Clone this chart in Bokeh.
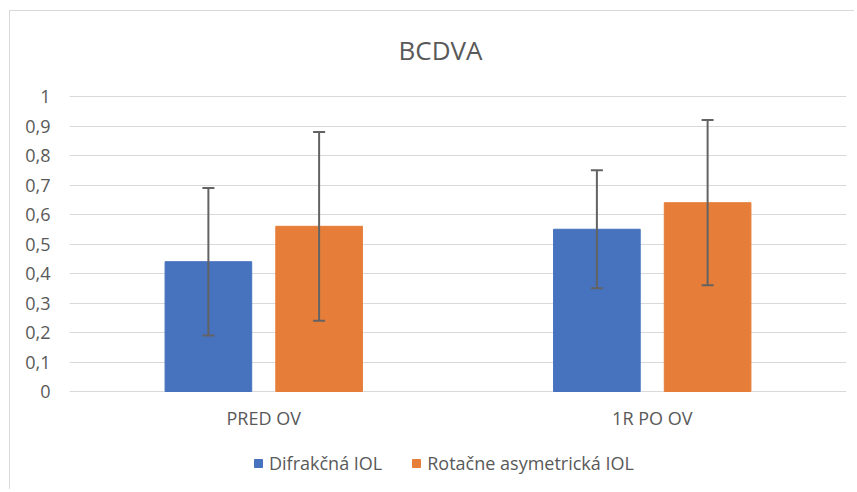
from bokeh.plotting import figure
from bokeh.models import (ColumnDataSource, FactorRange, Whisker, TeeHead, Legend,
                          LegendItem, FixedTicker, CustomJSTickFormatter, Label)
from bokeh.core.properties import value
from bokeh.transform import dodge
from bokeh.embed import file_html
from bokeh.resources import INLINE

# ---- data ----
categories = ["PRED OV", "1R PO OV"]
series_names = ["Difrakčná IOL", "Rotačne asymetrická IOL"]
difrakcna = [0.44, 0.55]
difrakcna_err = [0.25, 0.20]
rotacne = [0.56, 0.64]
rotacne_err = [0.32, 0.28]
y_ticks = [0, 0.1, 0.2, 0.3, 0.4, 0.5, 0.6, 0.7, 0.8, 0.9, 1.0]
title_text = "BCDVA"

BLUE = "#4672BE"
ORANGE = "#E67E3A"
TEXT = "#595959"
ERR = "#636363"
GRID = "#D9D9D9"
FONT = "Open Sans"

src = ColumnDataSource(data=dict(
    cats=categories,
    dif=difrakcna,
    rot=rotacne,
    dif_up=[v + e for v, e in zip(difrakcna, difrakcna_err)],
    dif_lo=[v - e for v, e in zip(difrakcna, difrakcna_err)],
    rot_up=[v + e for v, e in zip(rotacne, rotacne_err)],
    rot_lo=[v - e for v, e in zip(rotacne, rotacne_err)],
))

# frame extends above/below the 0..1 value area to hold title, category labels and legend
Y_BOTTOM = -0.3288
Y_TOP = 1.2712
LABEL_Y = -0.0915
TITLE_X = 0.955   # synthetic categorical coordinate (0..2)
TITLE_Y = 1.159

p = figure(x_range=FactorRange(factors=categories, range_padding=0),
           y_range=(Y_BOTTOM, Y_TOP), width=845, height=479,
           output_backend="svg", toolbar_location=None,
           min_border_left=59, min_border_right=9,
           min_border_top=5, min_border_bottom=2)
p.title.visible = False
p.margin = (11, 0, 0, 10)
p.styles = {"box-shadow": "-1px -1px 0 #D9D9D9"}
p.outline_line_color = None
p.background_fill_color = "white"
p.border_fill_color = "white"

off = 0.1425
bw = 0.223
r1 = p.vbar(x=dodge("cats", -off, range=p.x_range), top="dif", width=bw, source=src,
            fill_color=BLUE, line_color=BLUE)
r2 = p.vbar(x=dodge("cats", off, range=p.x_range), top="rot", width=bw, source=src,
            fill_color=ORANGE, line_color=ORANGE)

for base, up, lo in [(dodge("cats", -off, range=p.x_range), "dif_up", "dif_lo"),
                     (dodge("cats", off, range=p.x_range), "rot_up", "rot_lo")]:
    w = Whisker(source=src, base=base, upper=up, lower=lo, dimension="height",
                line_color=ERR, line_width=2, level="overlay",
                upper_head=TeeHead(size=12, line_color=ERR, line_width=2),
                lower_head=TeeHead(size=12, line_color=ERR, line_width=2))
    p.add_layout(w)

# category labels (x axis)
p.text(x="cats", y=LABEL_Y, text="cats", source=src,
       text_font=value(FONT), text_font_size="18px", text_color=TEXT,
       text_align="center", text_baseline="middle")

# title
p.add_layout(Label(x=TITLE_X, y=TITLE_Y, text=title_text, text_font=FONT,
                   text_font_size="26px", text_color=TEXT,
                   text_align="center", text_baseline="middle"))

# axes
p.xaxis.visible = False
p.yaxis.ticker = FixedTicker(ticks=y_ticks)
p.yaxis.formatter = CustomJSTickFormatter(code="""
    if (Math.abs(tick) < 1e-9) return '0';
    if (Math.abs(tick - 1) < 1e-9) return '1';
    return tick.toFixed(1).replace('.', ',');
""")
p.yaxis.major_label_text_font = FONT
p.yaxis.major_label_text_font_size = "18px"
p.yaxis.major_label_text_color = TEXT
p.yaxis.major_tick_line_color = None
p.yaxis.minor_tick_line_color = None
p.yaxis.major_tick_out = 0
p.yaxis.major_tick_in = 0
p.yaxis.axis_line_color = None
p.yaxis.major_label_standoff = 19

p.xgrid.grid_line_color = None
p.ygrid.ticker = FixedTicker(ticks=y_ticks)
p.ygrid.grid_line_color = GRID
p.ygrid.grid_line_width = 1

legend = Legend(items=[LegendItem(label=series_names[0], renderers=[r1]),
                       LegendItem(label=series_names[1], renderers=[r2])],
                orientation="horizontal", location=(184, 13),
                glyph_width=10, glyph_height=10, label_standoff=6, spacing=29,
                padding=0, margin=0, border_line_color=None,
                background_fill_alpha=0,
                label_text_font=FONT, label_text_font_size="18px",
                label_text_color=TEXT)
p.add_layout(legend, "center")

open("out.html", "w").write(file_html(p, INLINE))
